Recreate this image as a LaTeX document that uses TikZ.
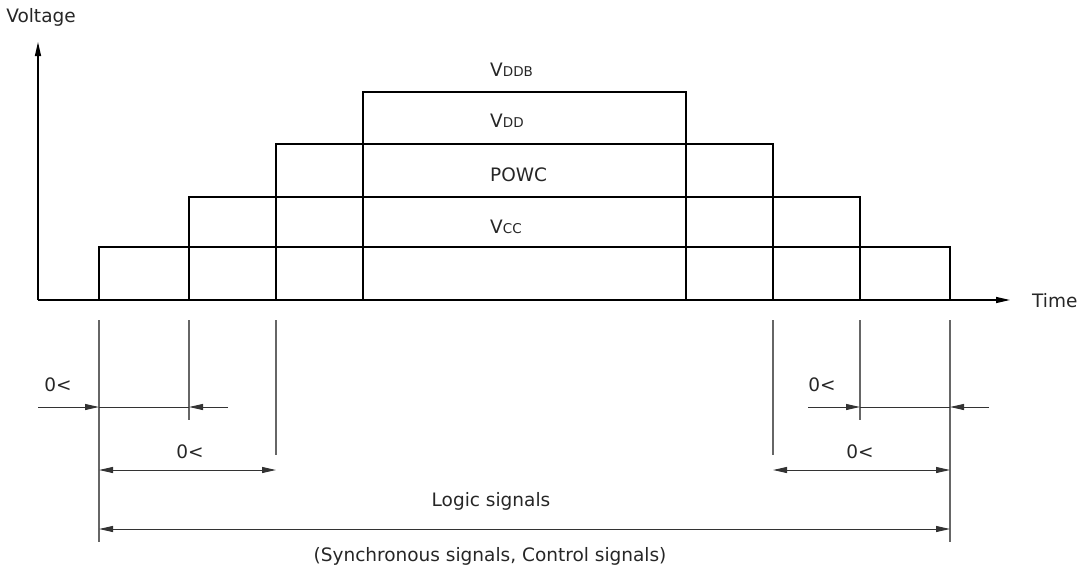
\documentclass[tikz,border=0pt]{standalone}
\usepackage{fontspec}
\setmainfont{DejaVu Sans}
\usetikzlibrary{arrows.meta}
\begin{document}
\begin{tikzpicture}[x=1pt,y=-1pt,
  lbl/.style={font=\fontsize{18.5}{21}\selectfont, inner sep=0pt, text=black!85},
  axis/.style={line width=1.3pt, -{Triangle[length=14pt,width=6pt]}},
  stepline/.style={line width=2.8pt},
  extline/.style={line width=1.1pt, draw=black!60},
  dimline/.style={line width=1pt, draw=black!80},
  tip/.style={-{Triangle[length=14pt,width=6pt]}},
  dtip/.style={{Triangle[length=14pt,width=6pt]}-{Triangle[length=14pt,width=6pt]}}]
\newcommand{\sm}[1]{{\fontsize{13.5}{15}\selectfont #1}}
\useasboundingbox (0,0) rectangle (1079,573);
% axes
\coordinate (O) at (38,300);
\coordinate (ytop) at (38,42);
\coordinate (xend) at (1010,300);
\draw[axis] (O) -- (ytop);
\draw[axis] (O) -- (xend);
\node[lbl] (voltage) at (41,17) {Voltage};
\node[lbl, anchor=west] (time) at (1032,301) {Time};
% steps
\draw[stepline] (99,300) -- (99,247) -- (950,247) -- (950,300);
\draw[stepline] (189,300) -- (189,197) -- (860,197) -- (860,300);
\draw[stepline] (276,300) -- (276,144) -- (773,144) -- (773,300);
\draw[stepline] (363,300) -- (363,92) -- (686,92) -- (686,300);
\node[lbl, anchor=base west] (vddb) at (490,76) {V\sm{DDB}};
\node[lbl, anchor=base west] (vdd) at (490,127) {V\sm{DD}};
\node[lbl, anchor=base west] (powc) at (490,181) {POWC};
\node[lbl, anchor=base west] (vcc) at (490,233) {V\sm{CC}};
% extension lines
\draw[extline] (99,320) -- (99,542);
\draw[extline] (189,320) -- (189,420);
\draw[extline] (276,320) -- (276,455);
\draw[extline] (773,320) -- (773,455);
\draw[extline] (860,320) -- (860,420);
\draw[extline] (950,320) -- (950,542);
% left small dim
\coordinate (l1a) at (38,407);
\coordinate (l1b) at (99,407);
\coordinate (l1c) at (189,407);
\coordinate (l1d) at (228,407);
\draw[dimline] (l1b) -- (l1c);
\draw[dimline, tip] (l1a) -- (l1b);
\draw[dimline, tip] (l1d) -- (l1c);
\node[lbl] (l1t) at (58,385) {0<};
% left wide dim
\coordinate (l2a) at (99,470);
\coordinate (l2b) at (276,470);
\draw[dimline, dtip] (l2a) -- (l2b);
\node[lbl] (l2t) at (190,452) {0<};
% right small dim
\coordinate (r1a) at (808,407);
\coordinate (r1b) at (860,407);
\coordinate (r1c) at (950,407);
\coordinate (r1d) at (989,407);
\draw[dimline] (r1b) -- (r1c);
\draw[dimline, tip] (r1a) -- (r1b);
\draw[dimline, tip] (r1d) -- (r1c);
\node[lbl] (r1t) at (822,385) {0<};
% right wide dim
\coordinate (r2a) at (773,470);
\coordinate (r2b) at (950,470);
\draw[dimline, dtip] (r2a) -- (r2b);
\node[lbl] (r2t) at (860,452) {0<};
% logic signals
\coordinate (ga) at (99,529);
\coordinate (gb) at (950,529);
\draw[dimline, dtip] (ga) -- (gb);
\node[lbl] (logic) at (491,501) {Logic signals};
\node[lbl] (sync) at (490,556) {(Synchronous signals, Control signals)};
\end{tikzpicture}
\end{document}
